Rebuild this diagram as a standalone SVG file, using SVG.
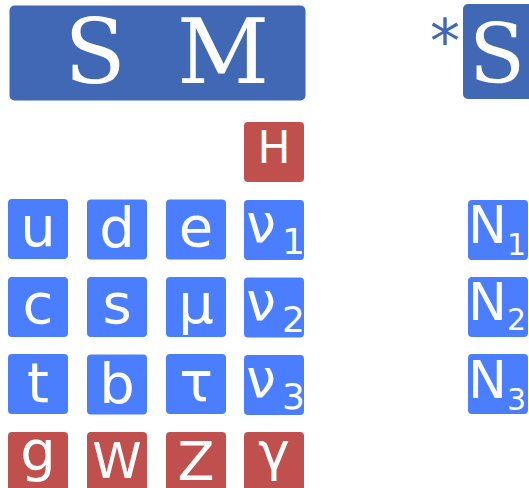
<svg xmlns="http://www.w3.org/2000/svg" width="529" height="488" viewBox="0 0 529 488">
<style>
.hdr{fill:#4068B4}
.f{fill:#4A7EFE}
.b{fill:#C0504D}
.serif{font-family:"DejaVu Serif",serif;fill:#fff;text-anchor:middle}
.t{font-family:"DejaVu Sans",sans-serif;fill:#fff;text-anchor:middle;font-size:56px}
.s{font-family:"DejaVu Sans",sans-serif;fill:#fff;font-size:36px}
.n{font-family:"DejaVu Sans",sans-serif;fill:#fff;font-size:52px}
</style>
<g id="SM">
<rect class="hdr" x="9.5" y="5.5" width="296" height="95" rx="5"/>
<text class="serif" x="95" y="83" font-size="90">S</text>
<text class="serif" x="223" y="83" font-size="90">M</text>
</g>
<g id="starS">
<text x="445" y="62" font-family="DejaVu Sans,sans-serif" font-size="60" fill="#4068B4" text-anchor="middle">*</text>
<rect class="hdr" x="463" y="4" width="76" height="95" rx="5"/>
<text class="serif" x="497" y="83" font-size="82">S</text>
</g>
<g id="H"><rect class="b" x="244" y="122" width="60" height="60" rx="4"/><text class="t" x="274" y="163" style="font-size:44px">H</text></g>
<g id="u"><rect class="f" x="8" y="199" width="60" height="60" rx="4"/><text class="t" x="38" y="246">u</text></g>
<g id="d"><rect class="f" x="87" y="199.5" width="60" height="60" rx="4"/><text class="t" x="117" y="247">d</text></g>
<g id="e"><rect class="f" x="166" y="199.5" width="60" height="60" rx="4"/><text class="t" x="196" y="246">e</text></g>
<g id="nu1"><rect class="f" x="244" y="200" width="60" height="60" rx="4"/><text class="t" x="261" y="242" style="font-size:53px">ν</text><text class="s" x="282" y="254">1</text></g>
<g id="c"><rect class="f" x="8" y="277" width="60" height="60" rx="4"/><text class="t" x="38" y="323">c</text></g>
<g id="s"><rect class="f" x="87" y="277" width="60" height="60" rx="4"/><text class="t" x="117" y="323">s</text></g>
<g id="mu"><rect class="f" x="166" y="277" width="60" height="60" rx="4"/><text class="t" x="196" y="323">μ</text></g>
<g id="nu2"><rect class="f" x="244" y="277.5" width="60" height="60" rx="4"/><text class="t" x="261" y="320" style="font-size:53px">ν</text><text class="s" x="282" y="332">2</text></g>
<g id="t"><rect class="f" x="8" y="354" width="60" height="60" rx="4"/><text class="t" x="38" y="402">t</text></g>
<g id="b"><rect class="f" x="87" y="354.5" width="60" height="60" rx="4"/><text class="t" x="117" y="403">b</text></g>
<g id="tau"><rect class="f" x="166" y="354" width="60" height="60" rx="4"/><text class="t" x="196" y="401">τ</text></g>
<g id="nu3"><rect class="f" x="244" y="355" width="60" height="60" rx="4"/><text class="t" x="261" y="397" style="font-size:53px">ν</text><text class="s" x="282" y="409">3</text></g>
<g id="g"><rect class="b" x="8" y="432" width="60" height="60" rx="4"/><text class="t" x="38" y="470">g</text></g>
<g id="W"><rect class="b" x="87" y="432" width="60" height="60" rx="4"/><text class="t" x="117" y="478" style="font-size:50px">W</text></g>
<g id="Z"><rect class="b" x="166" y="432" width="60" height="60" rx="4"/><text class="t" x="196" y="480" style="font-size:54px">Z</text></g>
<g id="gamma"><rect class="b" x="244" y="432" width="60" height="60" rx="4"/><text class="t" x="274" y="470" style="font-size:54px">γ</text></g>
<g id="N1"><rect class="f" x="468" y="200" width="60" height="60" rx="4"/><text class="n" x="468" y="243">N</text><text class="s" x="507" y="255" style="font-size:30px">1</text></g>
<g id="N2"><rect class="f" x="468" y="277" width="60" height="60" rx="4"/><text class="n" x="468" y="320">N</text><text class="s" x="507" y="330" style="font-size:30px">2</text></g>
<g id="N3"><rect class="f" x="468" y="354" width="60" height="60" rx="4"/><text class="n" x="468" y="398">N</text><text class="s" x="507" y="410" style="font-size:30px">3</text></g>
<g id="connectors"></g>
</svg>
